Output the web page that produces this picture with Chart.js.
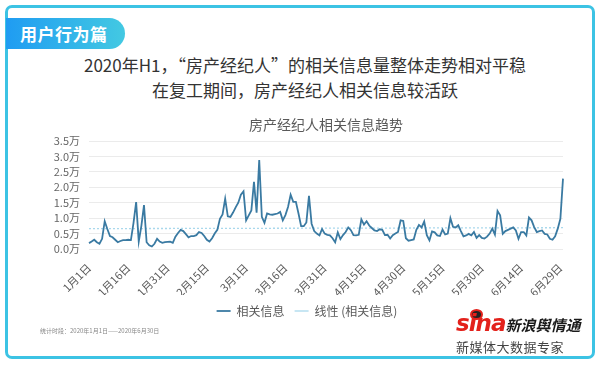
<!DOCTYPE html>
<html>
<head>
<meta charset="utf-8">
<script src="https://cdn.jsdelivr.net/npm/chart.js@4/dist/chart.umd.min.js"></script>
<style>
  html, body { margin: 0; padding: 0; background: #fff; }
  body { width: 600px; height: 365px; position: relative; overflow: hidden; font-family: "Noto Sans CJK SC", sans-serif; }
  .frame { position: absolute; left: 5px; top: 5px; width: 584px; height: 348px; border: 3px solid #3cc3e4; border-radius: 7px; }
  .tab { position: absolute; left: 6px; top: 18px; width: 119px; height: 31px; border-radius: 0 16px 16px 0;
         background: linear-gradient(90deg, #1f9cf2, #43c9e2); color: #fff; font-size: 17px; font-weight: 700;
         line-height: 31px; padding-left: 14px; box-sizing: border-box; letter-spacing: 0.5px; }
  .head { position: absolute; left: 0; width: 610px; text-align: center; font-size: 17px; color: #333; font-weight: 400; line-height: 26px; }
  .chart-box { position: absolute; left: 40px; top: 110px; width: 550px; height: 217px; }
  .note { position: absolute; left: 40px; top: 326px; font-size: 6px; color: #888; }
  .sina { position: absolute; left: 456px; top: 310px; white-space: nowrap; font-style: italic; font-weight: 700; }
  .sina .s { font-family: "DejaVu Sans", sans-serif; font-size: 23px; color: #e3211b; letter-spacing: -1px; }
  .sina .c { font-size: 15px; color: #1a1a1a; }
  .eye { position: absolute; left: 470px; top: 309px; width: 9px; height: 7px; border-radius: 50%; border: 2px solid #e3211b; background: #222; }
  .slogan { position: absolute; left: 456px; top: 339px; font-size: 13px; color: #444; line-height: 16px; letter-spacing: 0.5px; }
</style>
</head>
<body>
<div class="frame"></div>
<div class="tab">用户行为篇</div>
<div class="head" style="top:52px">2020年H1，“房产经纪人”的相关信息量整体走势相对平稳</div>
<div class="head" style="top:77px">在复工期间，房产经纪人相关信息较活跃</div>
<div class="chart-box"><canvas id="trend"></canvas></div>
<div class="note">统计时段：2020年1月1日——2020年6月30日</div>
<div class="eye"></div>
<div class="sina"><span class="s">sina</span><span class="c">新浪舆情通</span></div>
<div class="slogan">新媒体大数据专家</div>

<script>
// days per month, Jan-Jun 2020
const months = [1, 2, 3, 4, 5, 6];
const monthDays = [31, 29, 31, 30, 31, 30];

// 相关信息, unit 万, one per day from 1月1日 to 6月30日
const infoValues = [
  0.19, 0.24, 0.30, 0.22, 0.17, 0.33, 0.90, 0.65, 0.42, 0.38,
  0.30, 0.22, 0.26, 0.29, 0.29, 0.30, 0.29, 0.85, 1.52, 0.24,
  0.75, 1.42, 0.22, 0.12, 0.08, 0.17, 0.33, 0.24, 0.20, 0.22,
  0.23, 0.24, 0.20, 0.40, 0.52, 0.62, 0.58, 0.48, 0.38, 0.42,
  0.42, 0.45, 0.55, 0.52, 0.42, 0.30, 0.24, 0.35, 0.50, 0.62,
  0.98, 1.12, 1.63, 1.06, 1.04, 1.18, 1.35, 1.50, 1.76, 1.87,
  0.93, 1.09, 1.25, 2.18, 1.18, 2.88, 1.04, 0.85, 1.15, 1.12,
  1.11, 1.13, 1.15, 1.20, 0.93, 1.10, 1.36, 1.76, 1.53, 1.53,
  1.15, 0.74, 0.74, 0.86, 1.72, 0.82, 0.58, 0.50, 0.44, 0.65,
  0.50, 0.46, 0.44, 0.35, 0.22, 0.54, 0.32, 0.45, 0.55, 0.70,
  0.61, 0.45, 0.44, 0.46, 0.96, 0.79, 0.90, 0.76, 0.68, 0.60,
  0.58, 0.64, 0.62, 0.45, 0.46, 0.34, 0.45, 0.50, 0.55, 0.93,
  0.91, 0.35, 0.27, 0.29, 0.31, 0.62, 0.78, 0.70, 0.89, 0.45,
  0.28, 0.57, 0.54, 0.44, 0.42, 0.63, 0.47, 0.50, 1.00, 0.72,
  0.70, 0.77, 0.58, 0.41, 0.44, 0.49, 0.44, 0.55, 0.36, 0.45,
  0.36, 0.34, 0.40, 0.50, 0.66, 0.47, 1.23, 1.09, 0.49, 0.58,
  0.62, 0.66, 0.70, 0.60, 0.33, 0.55, 0.55, 0.44, 1.02, 0.93,
  0.71, 0.55, 0.58, 0.60, 0.49, 0.47, 0.33, 0.30, 0.41, 0.66,
  0.98, 2.28
];

// 线性 (相关信息): ends of the trend line
const trendStart = 0.66;
const trendEnd = 0.69;

const yMin = 0, yMax = 3.5, yStep = 0.5;
const labelEvery = 15;

const categories = [];
months.forEach((m, k) => {
  for (let d = 1; d <= monthDays[k]; d++) categories.push(`${m}月${d}日`);
});
const last = categories.length - 1;
const trendValues = categories.map((_, i) => i === 0 ? trendStart : i === last ? trendEnd : null);

Chart.defaults.font.family = '"Noto Sans CJK SC", sans-serif';
Chart.defaults.color = '#666';

new Chart(document.getElementById('trend'), {
  type: 'line',
  data: {
    labels: categories,
    datasets: [
      { label: '相关信息', data: infoValues, borderColor: '#3a7aa2', backgroundColor: '#3a7aa2',
        borderWidth: 1.8, pointRadius: 0, tension: 0, order: 1 },
      { label: '线性 (相关信息)', data: trendValues, borderColor: '#a9d8ec', backgroundColor: '#a9d8ec',
        borderWidth: 1.3, borderDash: [2, 2], pointRadius: 0, spanGaps: true, order: 2 }
    ]
  },
  options: {
    responsive: true, maintainAspectRatio: false, animation: false,
    layout: { padding: { left: 11, right: 27, top: 0, bottom: 0 } },
    plugins: {
      title: { display: true, fullSize: false, text: '房产经纪人相关信息趋势', color: '#595959',
               font: { size: 14, weight: 'normal' }, padding: { top: 6.6, bottom: 7.6 } },
      legend: { position: 'bottom',
                labels: { usePointStyle: true, pointStyle: 'line', pointStyleWidth: 14,
                          font: { size: 12 }, color: '#595959', padding: 10 } },
      tooltip: { enabled: false }
    },
    scales: {
      x: {
        grid: { display: false, drawTicks: false },
        border: { display: false },
        afterFit: s => { s.height = 46; },
        ticks: {
          autoSkip: false, minRotation: 45, maxRotation: 45, padding: 12,
          color: '#5a5a5a', font: { size: 11 },
          callback: (v, i) => i % labelEvery === 0 ? categories[i] : ''
        }
      },
      y: {
        min: yMin, max: yMax,
        grid: { color: '#ebebeb', drawTicks: false },
        border: { display: false },
        afterFit: s => { s.width = 38; },
        ticks: { stepSize: yStep, autoSkip: false, padding: 9, color: '#666', font: { size: 11 },
                 callback: v => v.toFixed(1) + '万' }
      }
    }
  }
});
</script>
</body>
</html>
